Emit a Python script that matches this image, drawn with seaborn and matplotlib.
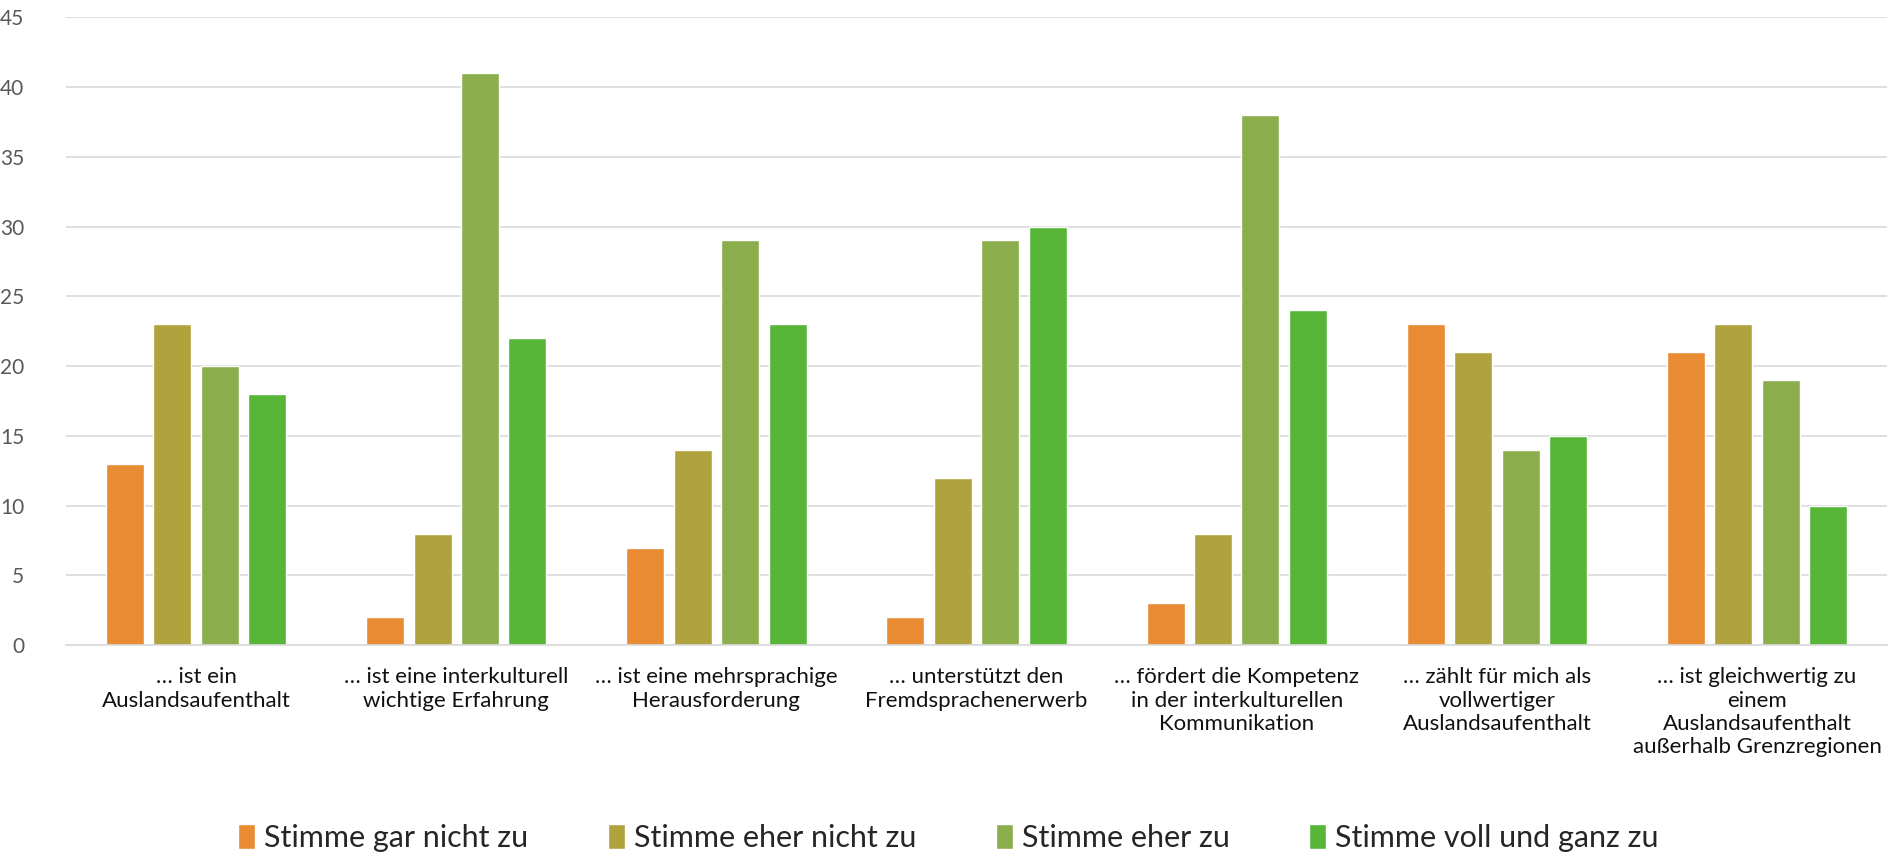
import matplotlib
matplotlib.use("Agg")
import matplotlib.pyplot as plt
import seaborn as sns
import pandas as pd

categories = [
    "… ist ein\nAuslandsaufenthalt",
    "… ist eine interkulturell\nwichtige Erfahrung",
    "… ist eine mehrsprachige\nHerausforderung",
    "… unterstützt den\nFremdsprachenerwerb",
    "… fördert die Kompetenz\nin der interkulturellen\nKommunikation",
    "… zählt für mich als\nvollwertiger\nAuslandsaufenthalt",
    "… ist gleichwertig zu\neinem\nAuslandsaufenthalt\naußerhalb Grenzregionen",
]
series_names = ["Stimme gar nicht zu", "Stimme eher nicht zu", "Stimme eher zu", "Stimme voll und ganz zu"]
gar_nicht = [13, 2, 7, 2, 3, 23, 21]
eher_nicht = [23, 8, 14, 12, 8, 21, 23]
eher = [20, 41, 29, 29, 38, 14, 19]
voll = [18, 22, 23, 30, 24, 15, 10]
colors = ["#E88B33", "#B0A23C", "#8BAD4C", "#57B637"]

rows = []
for name, vals in zip(series_names, [gar_nicht, eher_nicht, eher, voll]):
    for c, v in zip(categories, vals):
        rows.append({"Kategorie": c, "Antwort": name, "Wert": v})
df = pd.DataFrame(rows)

sns.set_theme(style="white")
plt.rcParams["font.family"] = ["Lato", "DejaVu Sans"]

fig = plt.figure(figsize=(18.97, 8.58), dpi=100)
ax = fig.add_axes([0.0348, 0.248, 0.96, 0.732])
sns.barplot(data=df, x="Kategorie", y="Wert", hue="Antwort", palette=colors,
            width=0.73, gap=0.2, ax=ax, saturation=1, errorbar=None)

ax.set_ylim(0, 45)
ax.set_yticks(range(0, 46, 5))
ax.set_xlim(-0.5, len(categories) - 0.5)
ax.yaxis.grid(True, color="#D9D9D9", linewidth=1.2)
ax.set_axisbelow(True)
for s in ["top", "right", "left"]:
    ax.spines[s].set_visible(False)
ax.spines["bottom"].set_color("#D9D9D9")
ax.spines["bottom"].set_linewidth(1.2)
ax.tick_params(axis="y", length=0, labelsize=15, labelcolor="#595959", pad=30)
ax.tick_params(axis="x", length=0, labelsize=16, labelcolor="#111111", pad=16)
ax.set_xlabel("")
ax.set_ylabel("")

handles, labels = ax.get_legend_handles_labels()
ax.get_legend().remove()
fig.legend(handles, labels, loc="center", bbox_to_anchor=(0.5, 1 - 838 / 858),
           ncol=4, frameon=False, fontsize=22, handlelength=0.55, handleheight=0.9,
           handletextpad=0.3, columnspacing=2.6)

fig.savefig("out.png", dpi=100)
